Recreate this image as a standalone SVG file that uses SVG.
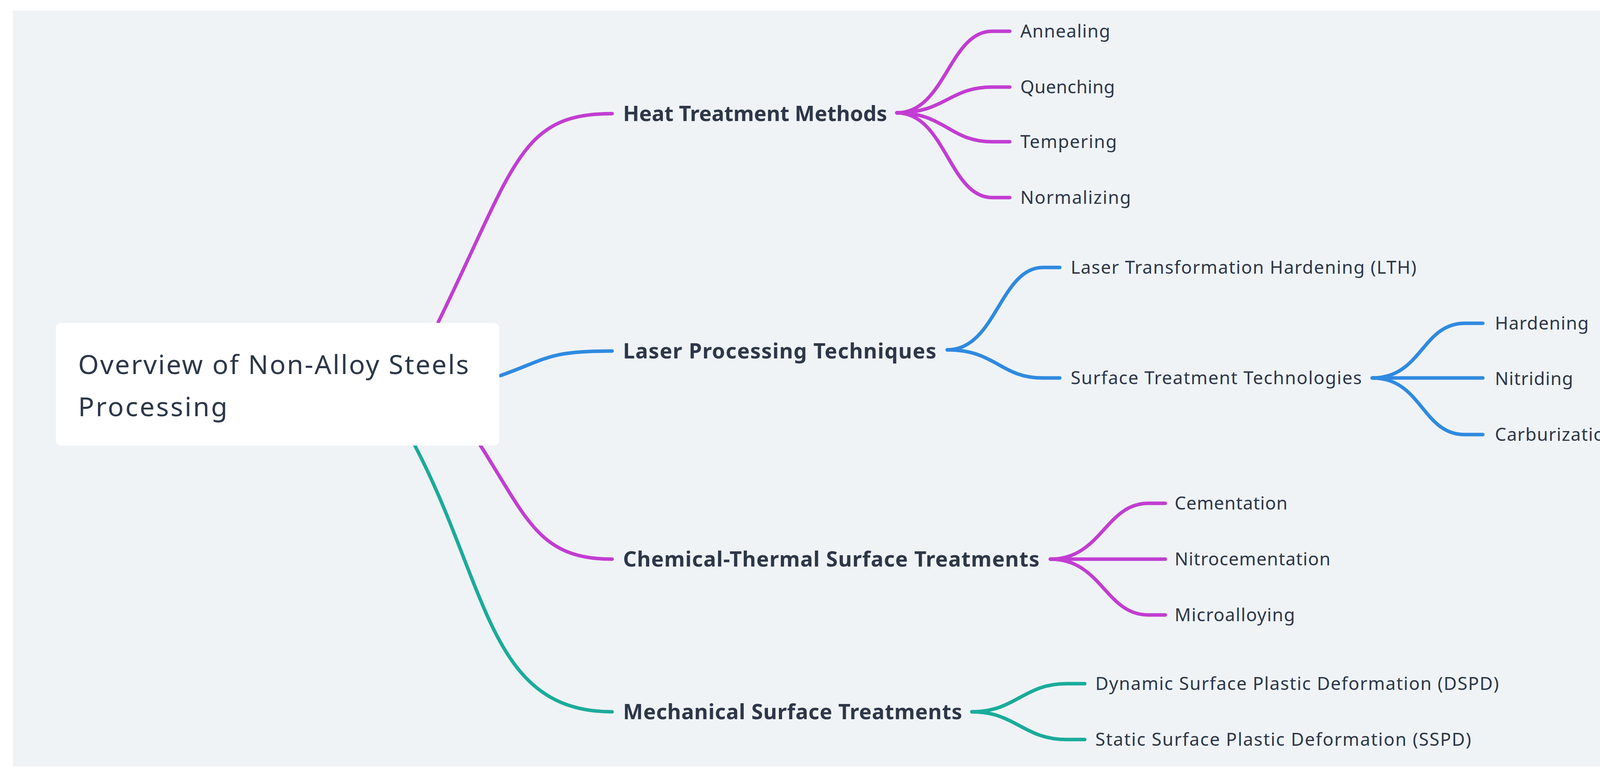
<svg xmlns="http://www.w3.org/2000/svg" width="4310" height="1990" viewBox="0 0 4310 1990">
<style>
.c{fill:none;stroke-width:9;stroke-linecap:round}
.m{stroke:#c23dd2}.b{stroke:#2f8ae0}.t{stroke:#1bab9b}
text{font-family:"Noto Sans","DejaVu Sans",sans-serif;fill:#2d3748}
.l1{font-size:54px;font-weight:bold}
.l2{font-size:46px}
.r{font-size:68px}
</style>
<rect x="0" y="0" width="4310" height="1990" fill="#ffffff"/>
<rect x="33" y="27" width="4244" height="1936" fill="#eff3f6"/>
<g id="connectors">
<path class="c m" d="M1122,825 C1320,420 1330,291 1567,291"/>
<path class="c b" d="M1281,962 C1400,920 1400,899 1567,899"/>
<path class="c m" d="M1230,1141 C1350,1330 1380,1432 1567,1432"/>
<path class="c t" d="M1062,1141 C1250,1500 1250,1823 1567,1823"/>
<path class="c m" d="M2296,289 C2420,289 2430,80 2540,80 L2585,80"/>
<path class="c m" d="M2296,289 C2420,289 2430,223 2540,223 L2585,223"/>
<path class="c m" d="M2296,289 C2420,289 2430,363 2540,363 L2585,363"/>
<path class="c m" d="M2296,289 C2420,289 2430,506 2540,506 L2585,506"/>
<path class="c b" d="M2425,896 C2550,896 2560,685 2670,685 L2713,685"/>
<path class="c b" d="M2425,896 C2550,896 2560,968 2670,968 L2713,968"/>
<path class="c b" d="M3513,968 C3640,968 3640,828 3750,828 L3796,828"/>
<path class="c b" d="M3513,968 L3796,968"/>
<path class="c b" d="M3513,968 C3640,968 3640,1113 3750,1113 L3796,1113"/>
<path class="c m" d="M2689,1432 C2820,1432 2830,1289 2940,1289 L2983,1289"/>
<path class="c m" d="M2689,1432 L2983,1432"/>
<path class="c m" d="M2689,1432 C2820,1432 2830,1575 2940,1575 L2983,1575"/>
<path class="c t" d="M2488,1823 C2600,1823 2620,1751 2730,1751 L2777,1751"/>
<path class="c t" d="M2488,1823 C2600,1823 2620,1894 2730,1894 L2777,1894"/>
</g>
<g id="root">
<rect x="143" y="827" width="1135" height="314" rx="14" fill="#ffffff"/>
<text class="r" x="200" y="958" textLength="1000">Overview of Non-Alloy Steels</text>
<text class="r" x="200" y="1066" textLength="382">Processing</text>
</g>
<g id="heat"><text class="l1" x="1595" y="310" textLength="676">Heat Treatment Methods</text></g>
<g id="laser"><text class="l1" x="1595" y="918" textLength="802">Laser Processing Techniques</text></g>
<g id="chem"><text class="l1" x="1595" y="1451" textLength="1066">Chemical-Thermal Surface Treatments</text></g>
<g id="mech"><text class="l1" x="1595" y="1842" textLength="868">Mechanical Surface Treatments</text></g>
<g id="annealing"><text class="l2" x="2612" y="96" textLength="230">Annealing</text></g>
<g id="quenching"><text class="l2" x="2612" y="239" textLength="242">Quenching</text></g>
<g id="tempering"><text class="l2" x="2612" y="379" textLength="247">Tempering</text></g>
<g id="normalizing"><text class="l2" x="2612" y="522" textLength="283">Normalizing</text></g>
<g id="lth"><text class="l2" x="2741" y="701" textLength="885">Laser Transformation Hardening (LTH)</text></g>
<g id="stt"><text class="l2" x="2741" y="984" textLength="745">Surface Treatment Technologies</text></g>
<g id="hardening"><text class="l2" x="3827" y="844" textLength="240">Hardening</text></g>
<g id="nitriding"><text class="l2" x="3827" y="986" textLength="200">Nitriding</text></g>
<g id="carburization"><text class="l2" x="3827" y="1129" textLength="310">Carburization</text></g>
<g id="cementation"><text class="l2" x="3007" y="1305" textLength="289">Cementation</text></g>
<g id="nitrocementation"><text class="l2" x="3007" y="1448" textLength="399">Nitrocementation</text></g>
<g id="microalloying"><text class="l2" x="3007" y="1591" textLength="308">Microalloying</text></g>
<g id="dspd"><text class="l2" x="2804" y="1767" textLength="1033">Dynamic Surface Plastic Deformation (DSPD)</text></g>
<g id="sspd"><text class="l2" x="2804" y="1910" textLength="962">Static Surface Plastic Deformation (SSPD)</text></g>
</svg>
